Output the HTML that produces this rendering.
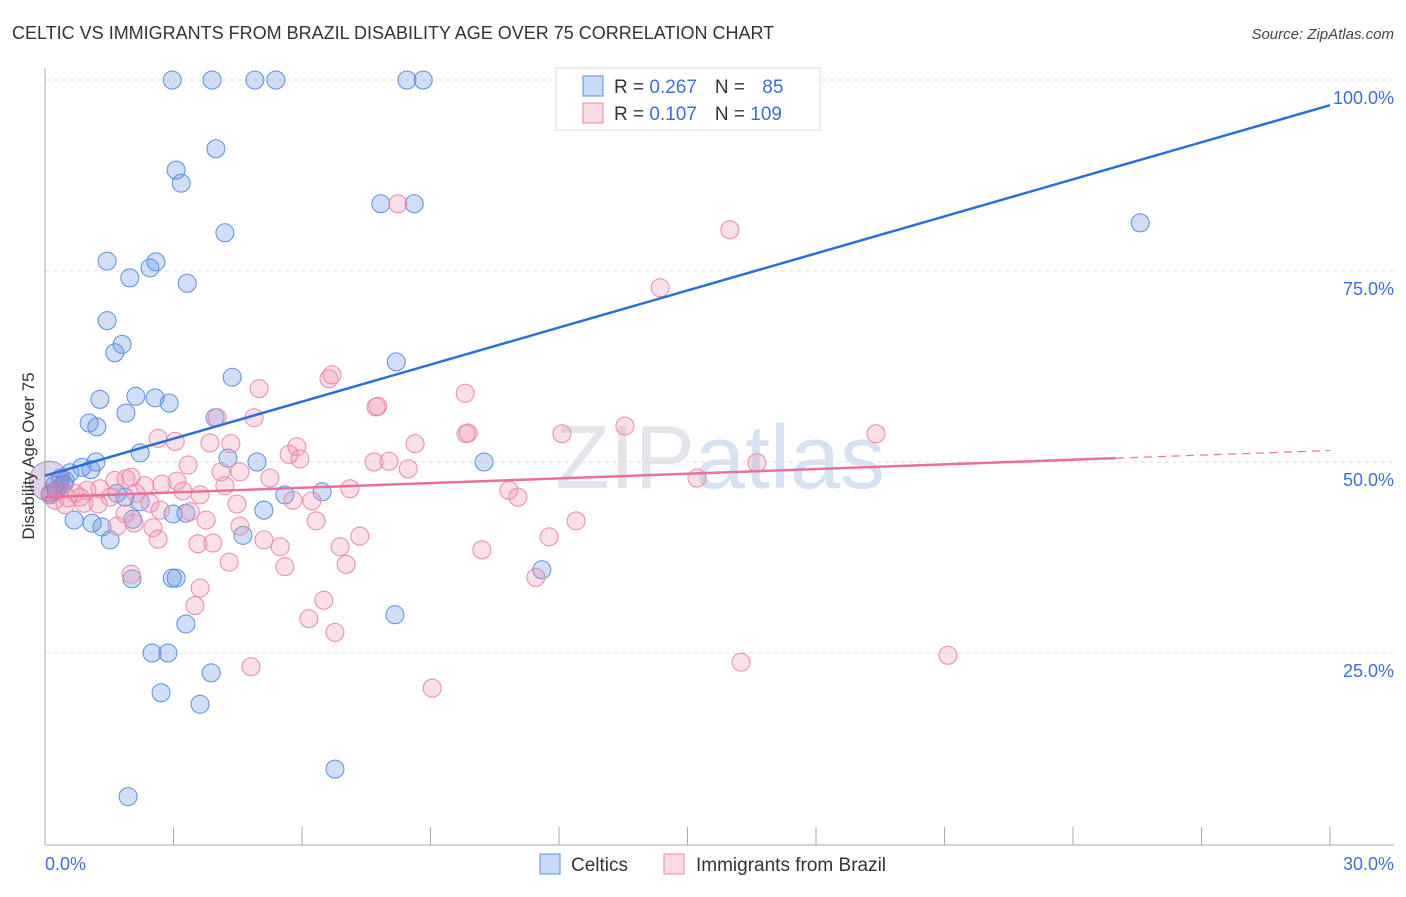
<!DOCTYPE html>
<html><head><meta charset="utf-8"><style>
body{margin:0;background:#fff;font-family:"Liberation Sans",sans-serif;}
svg text{font-family:"Liberation Sans",sans-serif;}
</style></head><body>
<svg id="chart" width="1406" height="892" xmlns="http://www.w3.org/2000/svg">
<text x="12" y="39" font-size="18" fill="#333">CELTIC VS IMMIGRANTS FROM BRAZIL DISABILITY AGE OVER 75 CORRELATION CHART</text>
<text x="1394" y="39" font-size="15" fill="#444" text-anchor="end" font-style="italic">Source: ZipAtlas.com</text>
<text x="720" y="488" font-size="90" fill="#e4e4ea" text-anchor="middle" font-family="Liberation Serif">ZIP<tspan fill="#d6e2f3" font-family="Liberation Sans">atlas</tspan></text>
<g id="grid"></g>
<g id="axes"></g>
<g id="pts"></g>
<g id="lines"></g>
<text transform="translate(34,456) rotate(-90)" font-size="17" fill="#333" text-anchor="middle">Disability Age Over 75</text>
<text x="45" y="870" font-size="18" fill="#3b6fd4">0.0%</text>
<text x="1394" y="870" font-size="18" fill="#3b6fd4" text-anchor="end">30.0%</text>
<g>
<rect x="556" y="68" width="264" height="62" fill="#fff" stroke="#ddd"/>
<rect x="583" y="76" width="20" height="20" fill="rgba(100,150,230,0.35)" stroke="#5a8fe0"/>
<rect x="583" y="103" width="20" height="20" fill="rgba(240,150,180,0.35)" stroke="#e88aa8"/>
<text x="614" y="93" font-size="19" fill="#333">R = <tspan fill="#3b6fd4">0.267</tspan><tspan dx="18">N = </tspan><tspan dx="12" fill="#3b6fd4">85</tspan></text>
<text x="614" y="120" font-size="19" fill="#333">R = <tspan fill="#3b6fd4">0.107</tspan><tspan dx="18">N = </tspan><tspan fill="#3b6fd4">109</tspan></text>
</g>
<g><rect x="540" y="854" width="20" height="20" fill="rgba(100,150,230,0.35)" stroke="#5a8fe0"/><text x="571" y="871" font-size="19" fill="#333">Celtics</text></g>
<g><rect x="664" y="854" width="20" height="20" fill="rgba(240,150,180,0.35)" stroke="#e88aa8"/><text x="696" y="871" font-size="19" fill="#333">Immigrants from Brazil</text></g>
</svg>
<script>
const yTicks=[25,50,75,100];
const yTickLabels=["25.0%","50.0%","75.0%","100.0%"];
const xTicks=[0,3,6,9,12,15,18,21,24,27,30];
const celticX=[2.97,3.90,4.90,5.39,8.45,8.83,3.99,3.06,3.18,7.84,8.62,4.20,25.57,1.45,2.59,1.98,2.45,3.32,1.45,1.80,1.63,8.20,4.37,1.28,2.12,2.57,2.90,1.89,3.97,1.03,1.21,2.22,4.27,4.95,1.19,10.25,0.86,1.07,0.58,0.37,0.44,0.26,0.12,1.68,1.87,5.60,6.47,2.22,2.99,3.29,5.11,0.68,1.10,1.33,2.05,1.52,4.62,2.97,3.06,2.03,11.60,3.29,8.17,2.50,2.87,3.88,2.71,3.62,6.77,1.94,0.47,0.23];
const celticY=[100,100,100,100,100,100,91.0,88.2,86.5,83.8,83.8,80.0,81.3,76.3,76.2,74.1,75.4,73.4,68.5,65.4,64.3,63.1,61.1,58.2,58.6,58.4,57.7,56.4,55.8,55.1,54.6,51.2,50.5,50.0,50.0,50.0,49.3,49.0,48.6,47.9,47.1,46.3,45.7,45.9,45.4,45.7,46.1,44.8,43.2,43.3,43.7,42.4,42.0,41.5,42.5,39.8,40.4,34.8,34.8,34.7,35.9,28.8,30.0,25.0,25.0,22.4,19.8,18.3,9.8,6.2,47.6,47.0];
const brazilX=[8.24,15.99,14.36,6.70,6.63,7.77,7.73,9.81,5.00,4.02,4.88,13.54,9.88,9.83,12.07,19.40,2.64,3.04,3.85,4.34,8.64,5.88,5.95,5.70,3.34,4.11,4.55,5.25,7.68,8.03,8.48,16.62,15.22,2.01,1.63,2.33,2.73,3.08,1.89,1.28,0.98,0.70,0.54,1.52,0.91,1.24,2.12,2.45,3.22,3.62,4.20,7.12,10.83,11.04,4.48,5.79,6.23,2.69,3.39,3.76,1.87,2.08,1.68,4.55,6.33,2.52,12.40,5.11,2.64,3.57,3.92,5.49,7.35,11.77,10.20,6.89,4.30,5.60,7.03,2.01,3.62,11.46,6.51,3.50,6.16,6.77,16.25,21.08,4.81,9.04,0.35,0.23,0.12,0.47,0.82];
const brazilY=[83.8,80.4,72.8,61.4,60.9,57.3,57.2,59.0,59.6,55.8,55.8,54.7,53.8,53.7,53.7,53.7,53.1,52.7,52.5,52.4,52.4,52.0,50.4,51.0,49.6,48.7,48.7,47.9,50.0,50.1,49.1,49.9,47.9,48.0,47.6,46.9,47.1,47.5,47.8,46.5,46.3,45.9,45.3,45.4,44.6,44.5,45.9,44.6,46.2,45.7,46.9,46.5,46.3,45.4,44.5,45.0,44.9,43.7,43.5,42.4,43.2,42.0,41.6,41.6,42.3,41.4,42.3,39.8,39.9,39.3,39.4,38.9,40.3,40.2,38.5,38.9,36.9,36.3,36.6,35.3,33.5,34.9,31.9,31.2,29.5,27.7,23.8,24.7,23.2,20.4,46.3,45.0,45.9,44.4,45.4];
const celticTrend=[48.2,96.7];
const brazilTrend=[45.4,50.5,51.5];
const brazilTrendX=[0,25,30];
const NS="http://www.w3.org/2000/svg";
const X=v=>45+v/30*1285;
const Y=v=>844-v*7.64;
function mk(tag,attrs,parent){const e=document.createElementNS(NS,tag);for(const k in attrs)e.setAttribute(k,attrs[k]);document.getElementById(parent).appendChild(e);return e;}
yTicks.forEach((t,i)=>{
 const l=mk('line',{x1:45,x2:1394,y1:Y(t),y2:Y(t),stroke:'#ddd','stroke-dasharray':'4,4'},'grid');
 
 
 const tx=mk('text',{x:1394,y:Y(t)+24,'font-size':18,fill:'#3b6fd4','text-anchor':'end'},'grid');
 tx.textContent=yTickLabels[i];
 
 
});
const ya=mk('line',{x1:45,x2:45,y1:68,y2:845,stroke:'#aaa'},'axes');


const xa=mk('line',{x1:45,x2:1394,y1:845,y2:845,stroke:'#aaa'},'axes');


xTicks.forEach(t=>{
 const l=mk('line',{x1:X(t),x2:X(t),y1:827,y2:845,stroke:'#aaa'},'axes');
 
 
});
celticX.forEach((x,i)=>{
 const c=mk('circle',{cx:X(x),cy:Y(celticY[i]),r:9,fill:'rgba(100,150,230,0.3)',stroke:'#5a8fe0','stroke-width':1},'pts');
 
 
});
brazilX.forEach((x,i)=>{
 const c=mk('circle',{cx:X(x),cy:Y(brazilY[i]),r:9,fill:'rgba(240,150,180,0.3)',stroke:'#e88aa8','stroke-width':1},'pts');
 
 
});
const big=mk('circle',{cx:X(0.1),cy:Y(47.5),r:20,fill:'rgba(150,110,180,0.3)',stroke:'#b08ac0'},'pts');


const bl=mk('line',{x1:X(0),y1:Y(celticTrend[0]),x2:X(30),y2:Y(celticTrend[1]),stroke:'#2a6fd6','stroke-width':2.5},'lines');


const pl=mk('line',{x1:X(brazilTrendX[0]),y1:Y(brazilTrend[0]),x2:X(brazilTrendX[1]),y2:Y(brazilTrend[1]),stroke:'#e8709a','stroke-width':2.5},'lines');


const pd=mk('line',{x1:X(brazilTrendX[1]),y1:Y(brazilTrend[1]),x2:X(brazilTrendX[2]),y2:Y(brazilTrend[2]),stroke:'#e8709a','stroke-width':1.2,'stroke-dasharray':'8,6'},'lines');


</script>
</body></html>
